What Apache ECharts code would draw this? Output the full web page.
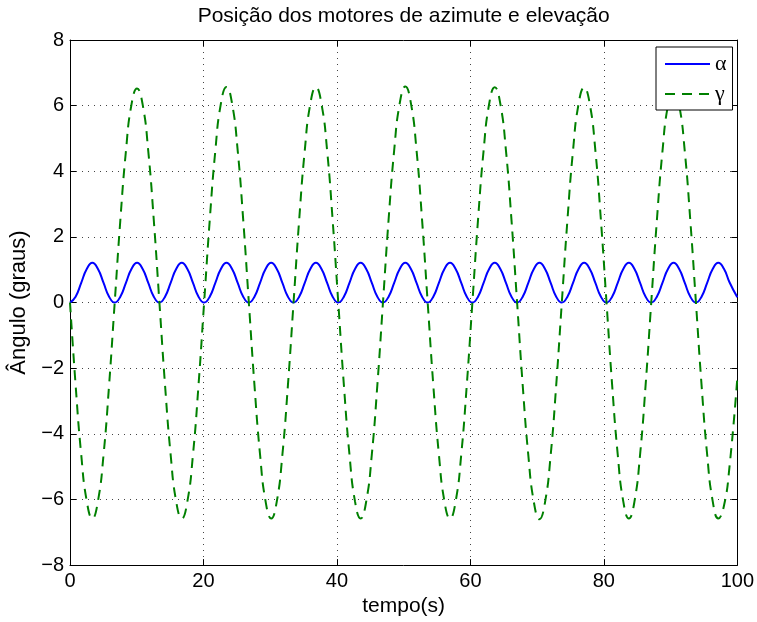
<!DOCTYPE html>
<html>
<head>
<meta charset="utf-8">
<script src="https://cdn.jsdelivr.net/npm/echarts@6/dist/echarts.min.js"></script>
<style>
  html, body { margin: 0; padding: 0; background: #fff; }
  #chart { width: 757px; height: 622px; }
</style>
</head>
<body>
<div id="chart"></div>
<script>
// Texts
const chartTitle = 'Posição dos motores de azimute e elevação';
const xName = 'tempo(s)';
const yName = 'Ângulo (graus)';
const seriesNames = ['α', 'γ'];

// Axis ticks
const xTicks = [0, 20, 40, 60, 80, 100];
const yTicks = [-8, -6, -4, -2, 0, 2, 4, 6, 8];

// Sample times (s)
const time = [
  0, 0.84, 1.68, 2.51, 3.35, 4.19, 5.03, 5.86, 6.70, 7.54, 8.38, 9.21, 10.05, 10.89, 11.73, 12.56,
  13.40, 14.24, 15.08, 15.91, 16.75, 17.59, 18.43, 19.26, 20.10, 20.94, 21.78, 22.61, 23.45, 24.29, 25.13, 25.96,
  26.80, 27.64, 28.48, 29.31, 30.15, 30.99, 31.83, 32.66, 33.50, 34.34, 35.18, 36.01, 36.85, 37.69, 38.53, 39.36,
  40.20, 41.04, 41.88, 42.71, 43.55, 44.39, 45.23, 46.06, 46.90, 47.74, 48.58, 49.41, 50.25, 51.09, 51.93, 52.76,
  53.60, 54.44, 55.28, 56.11, 56.95, 57.79, 58.63, 59.46, 60.30, 61.14, 61.98, 62.81, 63.65, 64.49, 65.33, 66.16,
  67.00, 67.84, 68.68, 69.51, 70.35, 71.19, 72.03, 72.86, 73.70, 74.54, 75.38, 76.21, 77.05, 77.89, 78.73, 79.56,
  80.40, 81.24, 82.08, 82.91, 83.75, 84.59, 85.43, 86.26, 87.10, 87.94, 88.78, 89.61, 90.45, 91.29, 92.13, 92.96,
  93.80, 94.64, 95.48, 96.31, 97.15, 97.99, 98.83, 100
];

// Azimuth motor angle α (degrees)
const alpha = [
  0, 0.18, 0.60, 1.02, 1.21, 1.02, 0.60, 0.18, 0, 0.18, 0.60, 1.02, 1.21, 1.02, 0.60, 0.18,
  0, 0.18, 0.60, 1.02, 1.21, 1.02, 0.60, 0.18, 0, 0.18, 0.60, 1.02, 1.21, 1.02, 0.60, 0.18,
  0, 0.18, 0.60, 1.02, 1.21, 1.02, 0.60, 0.18, 0, 0.18, 0.60, 1.02, 1.21, 1.02, 0.60, 0.18,
  0, 0.18, 0.60, 1.02, 1.21, 1.02, 0.60, 0.18, 0, 0.18, 0.60, 1.02, 1.21, 1.02, 0.60, 0.18,
  0, 0.18, 0.60, 1.02, 1.21, 1.02, 0.60, 0.18, 0, 0.18, 0.60, 1.02, 1.21, 1.02, 0.60, 0.18,
  0, 0.18, 0.60, 1.02, 1.21, 1.02, 0.60, 0.18, 0, 0.18, 0.60, 1.02, 1.21, 1.02, 0.60, 0.18,
  0, 0.18, 0.60, 1.02, 1.21, 1.02, 0.60, 0.18, 0, 0.18, 0.60, 1.02, 1.21, 1.02, 0.60, 0.18,
  0, 0.18, 0.60, 1.02, 1.21, 1.03, 0.62, 0.16
];

// Elevation motor angle γ (degrees)
const gamma = [
  0, -2.51, -4.63, -6.05, -6.58, -6.05, -4.63, -2.51, 0, 2.50, 4.61, 6.03, 6.52, 6.03, 4.61, 2.50,
  0, -2.51, -4.63, -6.06, -6.58, -6.06, -4.63, -2.51, 0, 2.51, 4.63, 6.06, 6.57, 6.06, 4.63, 2.51,
  0, -2.51, -4.63, -6.06, -6.58, -6.06, -4.63, -2.51, 0, 2.51, 4.63, 6.05, 6.56, 6.05, 4.63, 2.51,
  0, -2.51, -4.63, -6.06, -6.58, -6.06, -4.63, -2.51, 0, 2.52, 4.64, 6.07, 6.58, 6.07, 4.64, 2.52,
  0, -2.51, -4.63, -6.06, -6.58, -6.06, -4.63, -2.51, 0, 2.51, 4.63, 6.05, 6.56, 6.05, 4.63, 2.51,
  0, -2.52, -4.65, -6.08, -6.60, -6.08, -4.65, -2.52, 0, 2.51, 4.63, 6.05, 6.55, 6.05, 4.63, 2.51,
  0, -2.51, -4.63, -6.06, -6.58, -6.06, -4.63, -2.51, 0, 2.49, 4.60, 6.01, 6.50, 6.01, 4.60, 2.49,
  0, -2.51, -4.63, -6.05, -6.58, -6.20, -5.00, -2.30
];

const font = 'Liberation Sans, Arial, Helvetica, sans-serif';
const minus = v => String(v).replace('-', '\u2212');

const frameAxis = {
  axisLine: { show: true, onZero: false, lineStyle: { color: '#000', width: 1 } },
  axisTick: { show: true, inside: true, length: 6, lineStyle: { color: '#000' } }
};
const gridLine = { show: true, lineStyle: { color: '#444', width: 1, type: [1, 5] } };

const chart = echarts.init(document.getElementById('chart'), null, { renderer: 'canvas' });

chart.setOption({
  backgroundColor: '#fff',
  animation: false,
  textStyle: { fontFamily: font },
  grid: { left: 70, top: 40, right: 17, bottom: 55, containLabel: false },
  legend: {
    orient: 'vertical',
    left: 656,
    top: 47,
    backgroundColor: '#fff',
    borderColor: '#000',
    borderWidth: 1,
    borderRadius: 0,
    padding: [6, 6, 5, 8],
    itemWidth: 45,
    itemHeight: 14,
    itemGap: 8,
    itemStyle: { opacity: 0 },
    textStyle: { fontFamily: 'Liberation Serif, Times New Roman, serif', fontSize: 22, lineHeight: 20, color: '#000' },
    data: seriesNames
  },
  xAxis: [
    Object.assign({
      type: 'value',
      position: 'bottom',
      min: xTicks[0],
      max: xTicks[xTicks.length - 1],
      interval: xTicks[1] - xTicks[0],
      name: xName,
      nameLocation: 'middle',
      nameGap: 28,
      nameTextStyle: { fontFamily: font, fontSize: 21, color: '#000' },
      axisLabel: { fontFamily: font, fontSize: 20, color: '#000', margin: 6 },
      splitLine: gridLine
    }, frameAxis),
    Object.assign({
      type: 'value',
      position: 'top',
      min: xTicks[0],
      max: xTicks[xTicks.length - 1],
      interval: xTicks[1] - xTicks[0],
      name: chartTitle,
      nameLocation: 'middle',
      nameGap: 13,
      nameTextStyle: { fontFamily: font, fontSize: 21, color: '#000' },
      axisLabel: { show: false },
      splitLine: { show: false }
    }, frameAxis)
  ],
  yAxis: [
    Object.assign({
      type: 'value',
      position: 'left',
      min: yTicks[0],
      max: yTicks[yTicks.length - 1],
      interval: yTicks[1] - yTicks[0],
      name: yName,
      nameLocation: 'middle',
      nameGap: 39,
      nameTextStyle: { fontFamily: font, fontSize: 22, color: '#000' },
      axisLabel: { fontFamily: font, fontSize: 20, color: '#000', margin: 6, formatter: minus },
      splitLine: gridLine
    }, frameAxis),
    Object.assign({
      type: 'value',
      position: 'right',
      min: yTicks[0],
      max: yTicks[yTicks.length - 1],
      interval: yTicks[1] - yTicks[0],
      axisLabel: { show: false },
      splitLine: { show: false }
    }, frameAxis)
  ],
  series: [
    {
      name: seriesNames[0],
      type: 'line',
      xAxisIndex: 0,
      yAxisIndex: 0,
      data: time.map((t, i) => [t, alpha[i]]),
      symbol: 'none',
      smooth: true,
      lineStyle: { color: '#0000ff', width: 2 },
      itemStyle: { color: '#0000ff' }
    },
    {
      name: seriesNames[1],
      type: 'line',
      xAxisIndex: 0,
      yAxisIndex: 0,
      data: time.map((t, i) => [t, gamma[i]]),
      symbol: 'none',
      smooth: true,
      lineStyle: { color: '#008000', width: 2, type: [10, 7] },
      itemStyle: { color: '#008000' }
    }
  ]
});
</script>
</body>
</html>
